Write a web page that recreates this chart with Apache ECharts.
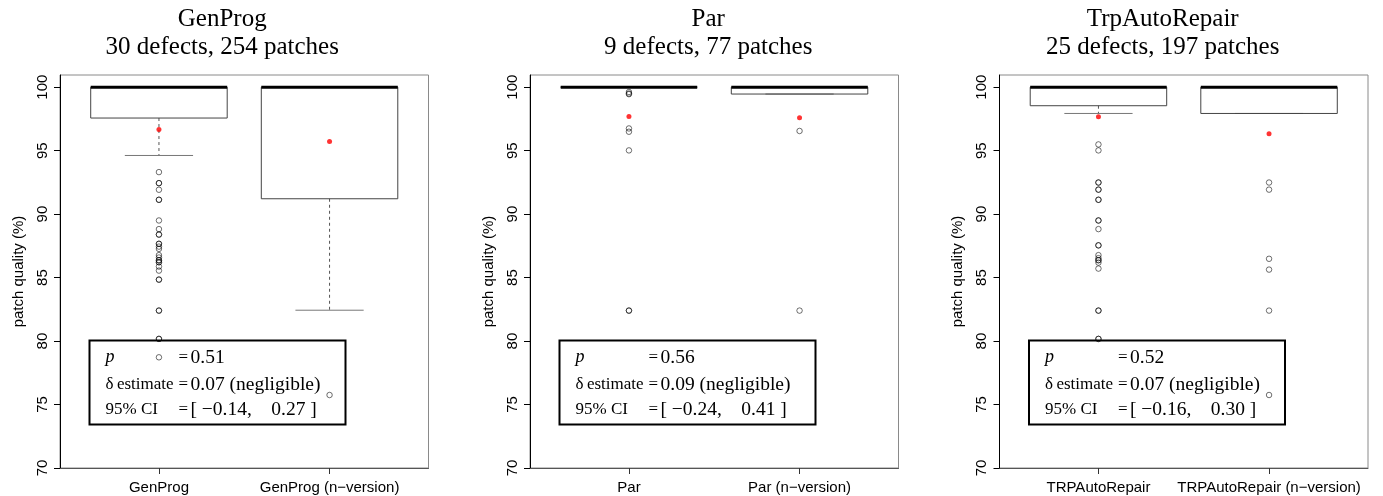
<!DOCTYPE html>
<html>
<head>
<meta charset="utf-8">
<script src="https://cdn.jsdelivr.net/npm/echarts@6/dist/echarts.min.js"></script>
<style>
html,body{margin:0;padding:0;background:#fff;}
#chart{width:1383px;height:496px;}
</style>
</head>
<body>
<div id="chart"></div>
<script>
// ---------- data ----------
const titles = ['GenProg', 'Par', 'TrpAutoRepair'];
const subtitles = ['30 defects, 254 patches', '9 defects, 77 patches', '25 defects, 197 patches'];
const categories = [
  ['GenProg', 'GenProg (n\u2212version)'],
  ['Par', 'Par (n\u2212version)'],
  ['TRPAutoRepair', 'TRPAutoRepair (n\u2212version)']
];
const yTicks = [70, 75, 80, 85, 90, 95, 100];

// box stats: [lower whisker, Q1, median, Q3, upper whisker]
const genprogBox   = [94.62, 97.57, 100, 100, 100];
const genprogNvBox = [82.43, 91.21, 100, 100, 100];
const parBox       = [100, 100, 100, 100, 100];
const parNvBox     = [99.46, 99.46, 100, 100, 100];
const trpBox       = [97.93, 98.54, 100, 100, 100];
const trpNvBox     = [97.93, 97.93, 100, 100, 100];

// means (red points)
const genprogMeans = [96.67, 95.73];
const parMeans     = [97.70, 97.59];
const trpMeans     = [97.67, 96.33];

// outliers (repeated values = several patches with the same quality)
const genprogOut = [93.31, 92.44, 92.44, 91.92, 91.13, 91.13, 89.50, 88.82, 88.39, 88.39, 87.66, 87.66, 87.44, 87.26,
  86.77, 86.58, 86.37, 86.37, 86.21, 86.21, 85.87, 85.55, 84.84, 84.84, 82.40, 82.40, 80.17, 80.17, 78.72];
const genprogNvOut = [75.75];
const parOut = [99.62, 99.50, 99.45, 96.75, 96.49, 95.02, 82.40, 82.40];
const parNvOut = [96.55, 82.40];
const trpOut = [95.49, 95.02, 92.49, 92.49, 91.93, 91.93, 91.13, 91.13, 89.50, 89.50, 88.82, 87.54, 87.54, 86.77, 86.53,
  86.37, 86.37, 86.18, 85.71, 82.40, 82.40, 80.17, 80.17];
const trpNvOut = [92.49, 91.93, 86.48, 85.63, 82.40, 75.75];

// statistics text
const pValues = ['0.51', '0.56', '0.52'];
const deltaValues = ['0.07', '0.09', '0.07'];
const deltaLabels = ['negligible', 'negligible', 'negligible'];
const ciLow = ['\u22120.14', '\u22120.24', '\u22120.16'];
const ciHigh = ['0.27', '0.41', '0.30'];

// ---------- build ----------
const boxes = [[genprogBox, genprogNvBox], [parBox, parNvBox], [trpBox, trpNvBox]];
const means = [genprogMeans, parMeans, trpMeans];
const outs = [[genprogOut, genprogNvOut], [parOut, parNvOut], [trpOut, trpNvOut]];

const gridLefts = [60, 530, 999.5];
const titleShift = [-22, -6, -21];
const gridWidth = 368.5;
const gridTop = 75;
const gridHeight = 393;

const sans = 'Liberation Sans, Arial, sans-serif';
const serif = 'Liberation Serif, Times New Roman, serif';

const option = {
  animation: false,
  backgroundColor: '#fff',
  title: [],
  grid: [],
  xAxis: [],
  yAxis: [],
  series: [],
  graphic: []
};

function renderBox(params, api) {
  const x = api.value(0);
  const lo = api.value(1), q1 = api.value(2), med = api.value(3), q3 = api.value(4), hi = api.value(5);
  const hw = 0.4, sw = 0.2;
  const ch = [];
  const P = (a, b) => api.coord([a, b]);
  const dash = {stroke: '#555', lineWidth: 1, lineDash: [3, 3]};
  const solidGray = {stroke: '#777', lineWidth: 1};
  if (lo < q1) {
    const a = P(x, q1), b = P(x, lo);
    ch.push({type: 'line', shape: {x1: a[0], y1: a[1], x2: b[0], y2: b[1]}, style: dash});
  }
  {
    const a = P(x - sw, lo), b = P(x + sw, lo);
    ch.push({type: 'line', shape: {x1: a[0], y1: a[1], x2: b[0], y2: b[1]}, style: solidGray});
  }
  if (hi > q3) {
    const a = P(x, q3), b = P(x, hi);
    ch.push({type: 'line', shape: {x1: a[0], y1: a[1], x2: b[0], y2: b[1]}, style: dash});
    const c = P(x - sw, hi), d = P(x + sw, hi);
    ch.push({type: 'line', shape: {x1: c[0], y1: c[1], x2: d[0], y2: d[1]}, style: solidGray});
  }
  const tl = P(x - hw, q3), br = P(x + hw, q1);
  ch.push({type: 'rect', shape: {x: tl[0], y: tl[1], width: br[0] - tl[0], height: br[1] - tl[1]},
    style: {fill: 'none', stroke: '#444', lineWidth: 1}});
  const m1 = P(x - hw, med), m2 = P(x + hw, med);
  ch.push({type: 'line', shape: {x1: m1[0], y1: m1[1], x2: m2[0], y2: m2[1]}, style: {stroke: '#000', lineWidth: 3}});
  return {type: 'group', children: ch};
}

for (let i = 0; i < 3; i++) {
  const left = gridLefts[i];
  option.title.push({
    text: titles[i] + '\n' + subtitles[i],
    left: left + gridWidth / 2 + titleShift[i],
    top: 5,
    padding: 0,
    textAlign: 'center',
    textStyle: {fontFamily: serif, fontSize: 25, fontWeight: 'normal', color: '#000', lineHeight: 28}
  });
  option.grid.push({
    left: left, top: gridTop, width: gridWidth, height: gridHeight,
    show: true, borderColor: '#8a8a8a', borderWidth: 1, backgroundColor: 'transparent'
  });
  const cats = categories[i];
  option.xAxis.push({
    type: 'value', gridIndex: i, min: 0.42, max: 2.58,
    splitLine: {show: false},
    axisLine: {show: true, lineStyle: {color: '#555', width: 1}},
    axisTick: {show: true, length: 6, lineStyle: {color: '#333'}, customValues: [1, 2]},
    axisLabel: {customValues: [1, 2], formatter: v => cats[Math.round(v) - 1], fontFamily: sans, fontSize: 15,
      color: '#000', margin: 12}
  });
  option.yAxis.push({
    type: 'value', gridIndex: i, min: 70, max: 100.96,
    name: 'patch quality (%)', nameLocation: 'middle', nameGap: 34, nameRotate: 90,
    nameTextStyle: {fontFamily: sans, fontSize: 15, color: '#000'},
    splitLine: {show: false},
    axisLine: {show: true, lineStyle: {color: '#000', width: 1}},
    axisTick: {show: true, length: 6, lineStyle: {color: '#000'}, customValues: yTicks},
    axisLabel: {customValues: yTicks, rotate: 90, fontFamily: sans, fontSize: 15, color: '#000', margin: 10}
  });
  option.series.push({
    type: 'custom', xAxisIndex: i, yAxisIndex: i,
    renderItem: renderBox,
    encode: {x: 0, y: [1, 2, 3, 4, 5]},
    data: boxes[i].map((b, k) => [k + 1].concat(b)),
    z: 2
  });
  const outData = [];
  outs[i].forEach((arr, k) => arr.forEach(v => outData.push([k + 1, v])));
  option.series.push({
    type: 'scatter', xAxisIndex: i, yAxisIndex: i,
    symbol: 'circle', symbolSize: 5.5,
    itemStyle: {color: 'rgba(255,255,255,0)', borderColor: 'rgba(0,0,0,0.7)', borderWidth: 1},
    data: outData, z: 3
  });
  option.series.push({
    type: 'scatter', xAxisIndex: i, yAxisIndex: i,
    symbol: 'circle', symbolSize: 5,
    itemStyle: {color: '#ff0000'},
    data: means[i].map((v, k) => [k + 1, v]), z: 4
  });
  // statistics box
  const bx = left + 27, by = 338;
  const c1 = 16, cEq = 89, c2 = 101;
  const fontL = {fontFamily: serif, fontSize: 17, fill: '#000', verticalAlign: 'middle'};
  const fontV = {fontFamily: serif, fontSize: 19.5, fill: '#000', verticalAlign: 'middle'};
  const T = (x, y, text, f, extra) => ({type: 'text', x: x, y: y, style: Object.assign({text: text}, f, extra || {})});
  option.graphic.push({
    type: 'group', left: bx, top: by, z: 100,
    children: [
      {type: 'rect', shape: {x: 0, y: 0, width: 256, height: 84}, style: {fill: 'none', stroke: '#000', lineWidth: 2}},
      T(c1, 17, 'p', fontL, {fontStyle: 'italic', fontSize: 18}),
      T(cEq, 17, '=', fontL),
      T(c2, 17, pValues[i], fontV),
      T(c1, 44, '\u03b4\u2009estimate', fontL),
      T(cEq, 44, '=', fontL),
      T(c2, 44, deltaValues[i] + ' (' + deltaLabels[i] + ')', fontV),
      T(c1, 69, '95% CI', fontL),
      T(cEq, 69, '=', fontL),
      T(c2, 69, '[ ' + ciLow[i] + ',    ' + ciHigh[i] + ' ]', fontV)
    ]
  });
}

const chart = echarts.init(document.getElementById('chart'), null, {renderer: 'canvas'});
chart.setOption(option);
</script>
</body>
</html>
